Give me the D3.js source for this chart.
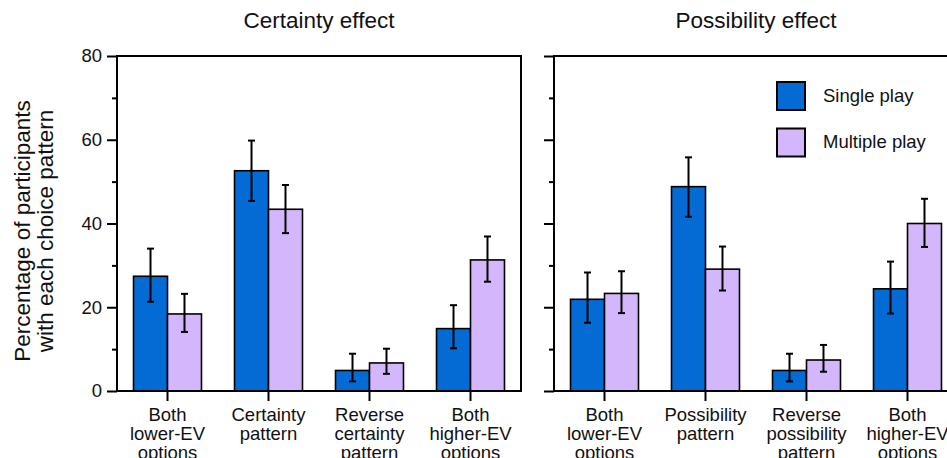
<!DOCTYPE html>
<html>
<head>
<meta charset="utf-8">
<script src="https://cdn.jsdelivr.net/npm/d3@7"></script>
<style>
  body { margin: 0; background: #fff; }
  text { font-family: Helvetica, Arial, "Liberation Sans", sans-serif; fill: #111; }
</style>
</head>
<body>
<div id="chart"></div>
<script>
// data
var seriesNames = ["Single play", "Multiple play"];
var seriesColors = ["#046bd5", "#d4b6fc"];

var certaintyLabels = ["Both\nlower-EV\noptions", "Certainty\npattern", "Reverse\ncertainty\npattern", "Both\nhigher-EV\noptions"];
var certaintySingle = [27.4, 52.6, 4.9, 14.9];
var certaintySingleLo = [21.3, 45.4, 2.3, 10.2];
var certaintySingleHi = [34.0, 59.8, 8.9, 20.5];
var certaintyMultiple = [18.4, 43.4, 6.7, 31.3];
var certaintyMultipleLo = [14.1, 37.7, 4.1, 26.1];
var certaintyMultipleHi = [23.2, 49.2, 10.1, 36.9];

var possibilityLabels = ["Both\nlower-EV\noptions", "Possibility\npattern", "Reverse\npossibility\npattern", "Both\nhigher-EV\noptions"];
var possibilitySingle = [21.9, 48.8, 4.9, 24.4];
var possibilitySingleLo = [16.3, 41.6, 2.3, 18.5];
var possibilitySingleHi = [28.3, 55.8, 8.9, 30.9];
var possibilityMultiple = [23.3, 29.1, 7.4, 40.0];
var possibilityMultipleLo = [18.6, 24.0, 4.6, 34.4];
var possibilityMultipleHi = [28.6, 34.5, 11.0, 45.9];

var majorTicks = [0, 20, 40, 60, 80];
var minorTicks = [10, 30, 50, 70];

// layout
var W = 947, H = 458;
var plotTop = 56, plotBottom = 391, panelW = 404;

const svg = d3.select("#chart")
  .append("svg")
  .attr("width", W)
  .attr("height", H);

var y = d3.scaleLinear().domain([0, 80]).range([plotBottom, plotTop]);

function buildRows(labels, s, sLo, sHi, m, mLo, mHi) {
  return labels.map(function(l, i) {
    return {
      label: l,
      vals: [
        {series: seriesNames[0], v: s[i], lo: sLo[i], hi: sHi[i]},
        {series: seriesNames[1], v: m[i], lo: mLo[i], hi: mHi[i]}
      ]
    };
  });
}

function drawPanel(x0, title, rows, showLabels) {
  var g = svg.append("g");

  var x = d3.scaleBand()
    .domain(rows.map(d => d.label))
    .range([x0, x0 + panelW])
    .paddingInner(0.327)
    .paddingOuter(0.1635);

  var xs = d3.scaleBand()
    .domain(seriesNames)
    .range([0, x.bandwidth()]);

  var color = d3.scaleOrdinal().domain(seriesNames).range(seriesColors);

  // title
  g.append("text")
    .attr("x", x0 + panelW / 2)
    .attr("y", 28)
    .attr("text-anchor", "middle")
    .style("font-size", "22.5px")
    .text(title);

  // bars
  var grp = g.selectAll("g.grp")
    .data(rows)
    .join("g")
    .attr("class", "grp")
    .attr("transform", d => `translate(${x(d.label)},0)`);

  grp.selectAll("rect")
    .data(d => d.vals)
    .join("rect")
    .attr("x", d => xs(d.series))
    .attr("y", d => y(d.v))
    .attr("width", xs.bandwidth())
    .attr("height", d => y(0) - y(d.v))
    .attr("fill", d => color(d.series))
    .attr("stroke", "#000")
    .attr("stroke-width", 1.6);

  // error bars
  var eb = grp.selectAll("g.err")
    .data(d => d.vals)
    .join("g")
    .attr("class", "err")
    .attr("stroke", "#000")
    .attr("stroke-width", 2);
  eb.append("line")
    .attr("x1", d => xs(d.series) + xs.bandwidth() / 2)
    .attr("x2", d => xs(d.series) + xs.bandwidth() / 2)
    .attr("y1", d => y(d.lo))
    .attr("y2", d => y(d.hi));
  eb.append("line")
    .attr("x1", d => xs(d.series) + xs.bandwidth() / 2 - 3.5)
    .attr("x2", d => xs(d.series) + xs.bandwidth() / 2 + 3.5)
    .attr("y1", d => y(d.hi))
    .attr("y2", d => y(d.hi));
  eb.append("line")
    .attr("x1", d => xs(d.series) + xs.bandwidth() / 2 - 3.5)
    .attr("x2", d => xs(d.series) + xs.bandwidth() / 2 + 3.5)
    .attr("y1", d => y(d.lo))
    .attr("y2", d => y(d.lo));

  // y axis, major + minor ticks
  var yAxis = g.append("g")
    .attr("transform", `translate(${x0},0)`)
    .call(d3.axisLeft(y).tickValues(majorTicks).tickSize(10).tickSizeOuter(0)
      .tickFormat(showLabels ? d3.format("d") : ""));
  yAxis.select(".domain").remove();
  yAxis.selectAll("line").attr("stroke", "#000").attr("stroke-width", 2);
  yAxis.selectAll("text")
    .attr("x", -15)
    .style("font-size", "18.5px")
    .style("font-family", "Helvetica, Arial, 'Liberation Sans', sans-serif")
    .attr("fill", "#111");

  var yMinor = g.append("g")
    .attr("transform", `translate(${x0},0)`)
    .call(d3.axisLeft(y).tickValues(minorTicks).tickSize(5).tickFormat(""));
  yMinor.select(".domain").remove();
  yMinor.selectAll("line").attr("stroke", "#000").attr("stroke-width", 2);

  // x axis ticks
  var xAxis = g.append("g")
    .attr("transform", `translate(0,${plotBottom})`)
    .call(d3.axisBottom(x).tickSize(10).tickFormat(""));
  xAxis.select(".domain").remove();
  xAxis.selectAll("line").attr("stroke", "#000").attr("stroke-width", 2);

  // category labels, several lines each
  var lab = g.selectAll("text.cat")
    .data(rows)
    .join("text")
    .attr("class", "cat")
    .attr("text-anchor", "middle")
    .style("font-size", "18.5px")
    .attr("transform", d => `translate(${x(d.label) + x.bandwidth() / 2},421)`);
  lab.selectAll("tspan")
    .data(d => d.label.split("\n"))
    .join("tspan")
    .attr("x", 0)
    .attr("y", (d, i) => i * 19)
    .text(d => d);

  // frame
  g.append("rect")
    .attr("x", x0)
    .attr("y", plotTop)
    .attr("width", panelW)
    .attr("height", plotBottom - plotTop)
    .attr("fill", "none")
    .attr("stroke", "#000")
    .attr("stroke-width", 2);

  return g;
}

drawPanel(117, "Certainty effect",
  buildRows(certaintyLabels, certaintySingle, certaintySingleLo, certaintySingleHi,
    certaintyMultiple, certaintyMultipleLo, certaintyMultipleHi), true);

var right = drawPanel(554, "Possibility effect",
  buildRows(possibilityLabels, possibilitySingle, possibilitySingleLo, possibilitySingleHi,
    possibilityMultiple, possibilityMultipleLo, possibilityMultipleHi), false);

// legend
var legend = right.selectAll("g.leg")
  .data(seriesNames)
  .join("g")
  .attr("class", "leg")
  .attr("transform", (d, i) => `translate(777,${82 + i * 46.5})`);
legend.append("rect")
  .attr("width", 28)
  .attr("height", 28)
  .attr("fill", (d, i) => seriesColors[i])
  .attr("stroke", "#000")
  .attr("stroke-width", 2);
legend.append("text")
  .attr("x", 46)
  .attr("y", 19.5)
  .style("font-size", "18.5px")
  .text(d => d);

// y axis title
svg.append("text")
  .attr("transform", "translate(30,231) rotate(-90)")
  .attr("text-anchor", "middle")
  .style("font-size", "22.5px")
  .selectAll("tspan")
  .data(["Percentage of participants", "with each choice pattern"])
  .join("tspan")
  .attr("x", 0)
  .attr("y", (d, i) => i * 22.5)
  .text(d => d);
</script>
</body>
</html>
